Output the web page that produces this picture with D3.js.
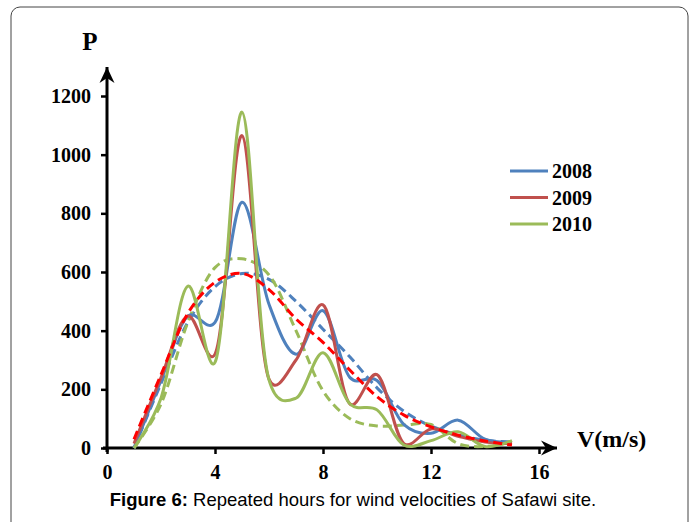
<!DOCTYPE html>
<html>
<head>
<meta charset="utf-8">
<script src="https://cdn.jsdelivr.net/npm/d3@7"></script>
<style>
    body { margin: 0; background: #fff; }
    .tick text { font-family: "Liberation Serif", "Times New Roman", serif; font-weight: bold; font-size: 20px; fill: #000; }
</style>
</head>
<body>
<svg id="chart" width="696" height="522"></svg>
<script>
// wind speed classes (m/s)
const speeds = [1, 2, 3, 4, 5, 6, 7, 8, 9, 10, 11, 12, 13, 14, 15];

// measured repeated hours
const hours2008 = [0, 230, 450, 428, 838, 490, 320, 468, 240, 230, 80, 50, 95, 30, 20];
const hours2009 = [15, 240, 450, 320, 1065, 235, 300, 488, 150, 250, 15, 65, 40, 20, 15];
const hours2010 = [0, 170, 552, 292, 1145, 232, 170, 325, 150, 130, 10, 25, 55, 5, 25];

// fitted distributions (dashed)
const fit2008 = [0, 220, 430, 550, 595, 575, 500, 405, 310, 205, 125, 75, 45, 27, 20];
const fit2009 = [30, 250, 460, 565, 595, 540, 440, 360, 265, 175, 112, 72, 44, 24, 10];
const fit2010 = [0, 150, 430, 615, 645, 590, 400, 195, 100, 75, 78, 80, 15, 5, 20];

const years = ['2008', '2009', '2010'];
const xTicks = [0, 4, 8, 12, 16];
const yTicks = [0, 200, 400, 600, 800, 1000, 1200];

const colors = { '2008': '#4F81BD', '2009': '#C0504D', '2010': '#9BBB59' };

const svg = d3.select('#chart');

// outer frame
svg.append('rect')
    .attr('x', 11).attr('y', 7)
    .attr('width', 677).attr('height', 530)
    .attr('rx', 9)
    .attr('fill', 'none')
    .attr('stroke', '#444')
    .attr('stroke-width', 1);

const x = d3.scaleLinear().domain([0, 16]).range([107, 539]);
const y = d3.scaleLinear().domain([0, 1200]).range([448, 96]);

svg.append('defs').append('marker')
    .attr('id', 'arrow')
    .attr('viewBox', '-16 -8 18 16')
    .attr('markerWidth', 18).attr('markerHeight', 16)
    .attr('markerUnits', 'userSpaceOnUse')
    .attr('orient', 'auto')
    .append('path')
    .attr('d', 'M0,0 L-16,-7.5 L-11,0 L-16,7.5 Z')
    .attr('fill', '#000');

// axes with ticks
const yAxis = svg.append('g')
    .attr('transform', `translate(${x(0)},0)`)
    .call(d3.axisLeft(y).tickValues(yTicks).tickFormat(d3.format('d')).tickSize(6).tickPadding(10));
const xAxis = svg.append('g')
    .attr('transform', `translate(0,${y(0)})`)
    .call(d3.axisBottom(x).tickValues(xTicks).tickFormat(d3.format('d')).tickSize(6).tickPadding(11));

[yAxis, xAxis].forEach(a => {
    a.select('.domain').remove();
    a.selectAll('.tick line').attr('stroke', '#000').attr('stroke-width', 2.5);
});

// axis lines with arrows
svg.append('line')
    .attr('x1', x(0)).attr('y1', y(0) + 4)
    .attr('x2', x(0)).attr('y2', 67)
    .attr('stroke', '#000').attr('stroke-width', 3)
    .attr('marker-end', 'url(#arrow)');
svg.append('line')
    .attr('x1', x(0) - 4).attr('y1', y(0))
    .attr('x2', 557).attr('y2', y(0))
    .attr('stroke', '#000').attr('stroke-width', 3)
    .attr('marker-end', 'url(#arrow)');

svg.append('text')
    .attr('x', 90).attr('y', 50)
    .attr('text-anchor', 'middle')
    .style('font-family', '"Liberation Serif", serif')
    .style('font-weight', 'bold').style('font-size', '25px')
    .text('P');

svg.append('text')
    .attr('x', 577).attr('y', 447)
    .style('font-family', '"Liberation Serif", serif')
    .style('font-weight', 'bold').style('font-size', '24px')
    .text('V(m/s)');

// light Catmull-Rom parametrisation: round peaks, little overshoot
const line = d3.line()
    .x((d, i) => x(speeds[i]))
    .y(d => y(d))
    .curve(d3.curveCatmullRom.alpha(0.2));

const series = [
    { data: fit2008, color: colors['2008'], dash: '9,5' },
    { data: fit2010, color: colors['2010'], dash: '9,5' },
    { data: hours2008, color: colors['2008'] },
    { data: hours2009, color: colors['2009'] },
    { data: hours2010, color: colors['2010'] },
    { data: fit2009, color: '#FF0000', dash: '9,5' }
];

svg.append('g').selectAll('path')
    .data(series)
    .join('path')
    .attr('d', d => line(d.data))
    .attr('fill', 'none')
    .attr('stroke', d => d.color)
    .attr('stroke-width', 3)
    .attr('stroke-dasharray', d => d.dash || null);

// legend
const legend = svg.append('g').selectAll('g')
    .data(years)
    .join('g')
    .attr('transform', (d, i) => `translate(510,${171 + i * 26.5})`);
legend.append('line')
    .attr('x1', 0).attr('x2', 38)
    .attr('stroke', d => colors[d])
    .attr('stroke-width', 3);
legend.append('text')
    .attr('x', 42).attr('y', 7)
    .style('font-family', '"Liberation Serif", serif')
    .style('font-weight', 'bold').style('font-size', '20px')
    .text(d => d);

// caption
const caption = svg.append('text')
    .attr('x', 353).attr('y', 506)
    .attr('text-anchor', 'middle')
    .style('font-family', '"Liberation Sans", Arial, sans-serif')
    .style('font-size', '18.5px');
caption.append('tspan').style('font-weight', 'bold').text('Figure 6:');
caption.append('tspan').text(' Repeated hours for wind velocities of Safawi site.');
</script>
</body>
</html>
